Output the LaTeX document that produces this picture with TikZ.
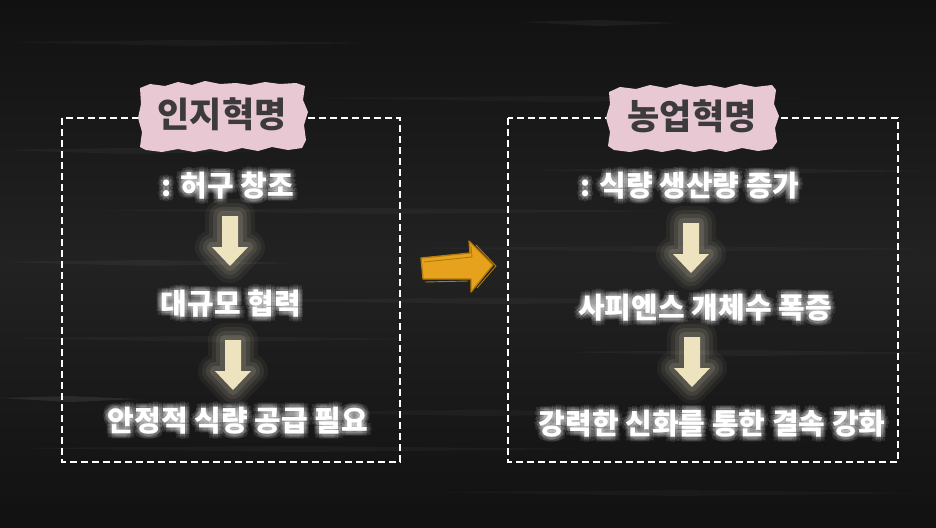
\documentclass[tikz,border=0pt]{standalone}
\usepackage{fontspec}
\newfontfamily\kr{Noto Sans CJK KR}[BoldFont={Noto Sans CJK KR Black}]
\usetikzlibrary{calc}
\definecolor{boardmid}{HTML}{222222}
\definecolor{boardedge}{HTML}{111111}
\definecolor{cream}{HTML}{EEE3BF}
\definecolor{pinkpaper}{HTML}{E8C9D3}
\definecolor{titlegray}{HTML}{3C3A3C}
\definecolor{orng}{HTML}{E6A21C}
\definecolor{orngdark}{HTML}{B07A0C}
\tikzset{
  body/.style={font=\kr\bfseries\fontsize{29}{32}\selectfont, text=white, inner sep=0pt},
  bodyglow/.style={font=\kr\bfseries\fontsize{29}{32}\selectfont, text=white, inner sep=0pt, opacity=0.11},
  title/.style={font=\kr\bfseries\fontsize{35}{38}\selectfont, text=titlegray, inner sep=0pt},
  frame/.style={draw=white, line width=2.4pt, dash pattern=on 7pt off 4pt},
  paper/.style={fill=pinkpaper},
  downarrow/.style={fill=cream},
}
\newcommand\glowtext[3]{%
  \foreach \dx/\dy in {-3/0,3/0,0/-3,0/3,-2/-2,2/2,-2/2,2/-2,-5/0,5/0,0/5,0/-5,-4/-4,4/4,-4/4,4/-4}{
    \node[bodyglow] at ($(#2)+(\dx,\dy)$) {#3};
  }
  \node[body] (#1) at (#2) {#3};
}
\newcommand\downarr[3]{% name, center x, top y ; tip y = top+50
  \foreach \w/\o in {34/0.05,26/0.07,18/0.09,10/0.12}{
    \draw[line width=\w pt, draw=cream!80!white, opacity=\o, line join=round]
      ($(#2,#3)+(-8,0)$) -- ($(#2,#3)+(8,0)$) -- ($(#2,#3)+(8,31)$) -- ($(#2,#3)+(18,31)$) -- ($(#2,#3)+(0,50)$) -- ($(#2,#3)+(-18,31)$) -- ($(#2,#3)+(-8,31)$) -- cycle;
  }
  \fill[downarrow]
    ($(#2,#3)+(-8,0)$) coordinate (#1) -- ($(#2,#3)+(8,0)$) -- ($(#2,#3)+(8,31)$) -- ($(#2,#3)+(18,31)$) -- ($(#2,#3)+(0,50)$) -- ($(#2,#3)+(-18,31)$) -- ($(#2,#3)+(-8,31)$) -- cycle;
}
\begin{document}
\begin{tikzpicture}[x=1pt,y=-1pt]
\useasboundingbox (0,0) rectangle (936,527);
% board background
\shade[top color=boardedge, bottom color=boardmid] (0,0) rectangle (936,264);
\shade[top color=boardmid, bottom color=boardedge] (0,263) rectangle (936,527);
\foreach \x/\y/\l/\o in {0/42/380/0.035,300/98/520/0.03,0/150/260/0.04,520/170/416/0.035,
  80/210/600/0.03,0/262/300/0.045,400/248/536/0.03,150/300/700/0.035,0/338/420/0.03,
  560/352/376/0.04,0/398/140/0.08,230/412/500/0.03,0/448/600/0.035,420/492/516/0.03,520/22/160/0.05}{
  \fill[white, opacity=\o] (\x,\y) -- (\x+\l*0.5,\y-2) -- (\x+\l,\y+1) -- (\x+\l*0.5,\y+4) -- cycle;
}
% dashed frames
\draw[frame] (62,118) rectangle (400,462);
\draw[frame] (508,118) rectangle (898,462);
% pink paper labels
\fill[paper] (140,88) -- (150,84) -- (165,86) -- (178,82) -- (192,85) -- (205,81) -- (220,84) -- (236,83) -- (250,85) -- (265,82) -- (280,84) -- (296,83) -- (305,86)
  -- (303,100) -- (308,112) -- (304,125) -- (306,140) -- (302,148)
  -- (288,150) -- (272,147) -- (258,151) -- (242,148) -- (226,152) -- (210,149) -- (194,152) -- (178,149) -- (162,152) -- (146,150) -- (140,147)
  -- (142,132) -- (138,118) -- (141,104) -- cycle;
\fill[paper] (609,92) -- (620,87) -- (636,89) -- (650,85) -- (666,88) -- (680,84) -- (695,87) -- (710,85) -- (725,88) -- (740,84) -- (755,87) -- (772,85) -- (776,90)
  -- (774,104) -- (779,116) -- (775,128) -- (777,142) -- (772,149)
  -- (758,151) -- (742,148) -- (726,152) -- (710,149) -- (694,152) -- (678,149) -- (662,152) -- (646,149) -- (630,152) -- (614,150) -- (608,146)
  -- (610,132) -- (606,118) -- (610,104) -- cycle;
\node[title] (t1) at (222,114) {인지혁명};
\node[title] (t2) at (692,116) {농업혁명};
% left column
\glowtext{a1}{228,186}{: 허구 창조}
\downarr{da1}{230}{216}
\glowtext{a2}{231,304}{대규모 협력}
\downarr{da2}{233}{340}
\glowtext{a3}{238,421}{안정적 식량 공급 필요}
% right column
\glowtext{b1}{690,186}{: 식량 생산량 증가}
\downarr{db1}{691}{223}
\glowtext{b2}{705,308}{사피엔스 개체수 폭증}
\downarr{db2}{692}{337}
\glowtext{b3}{712,424}{강력한 신화를 통한 결속 강화}
% orange arrow between frames
\coordinate (oa) at (420,257);
\fill[orng] (421,258) -- (470,253) -- (469,241) -- (493,265) -- (471,292) -- (471,279) -- (423,279) -- cycle;
\draw[orngdark, line width=1.3pt, line join=round] (421,258) -- (470,253) -- (469,241) -- (493,265) -- (471,292) -- (471,279) -- (423,279) -- cycle;
\draw[orngdark, line width=0.9pt] (424,262) -- (472,257) -- (471,246);
\draw[orngdark, line width=0.9pt] (476,245) -- (496,266) -- (477,288);
\draw[orngdark, line width=0.9pt] (425,282) -- (468,281);
\end{tikzpicture}
\end{document}
